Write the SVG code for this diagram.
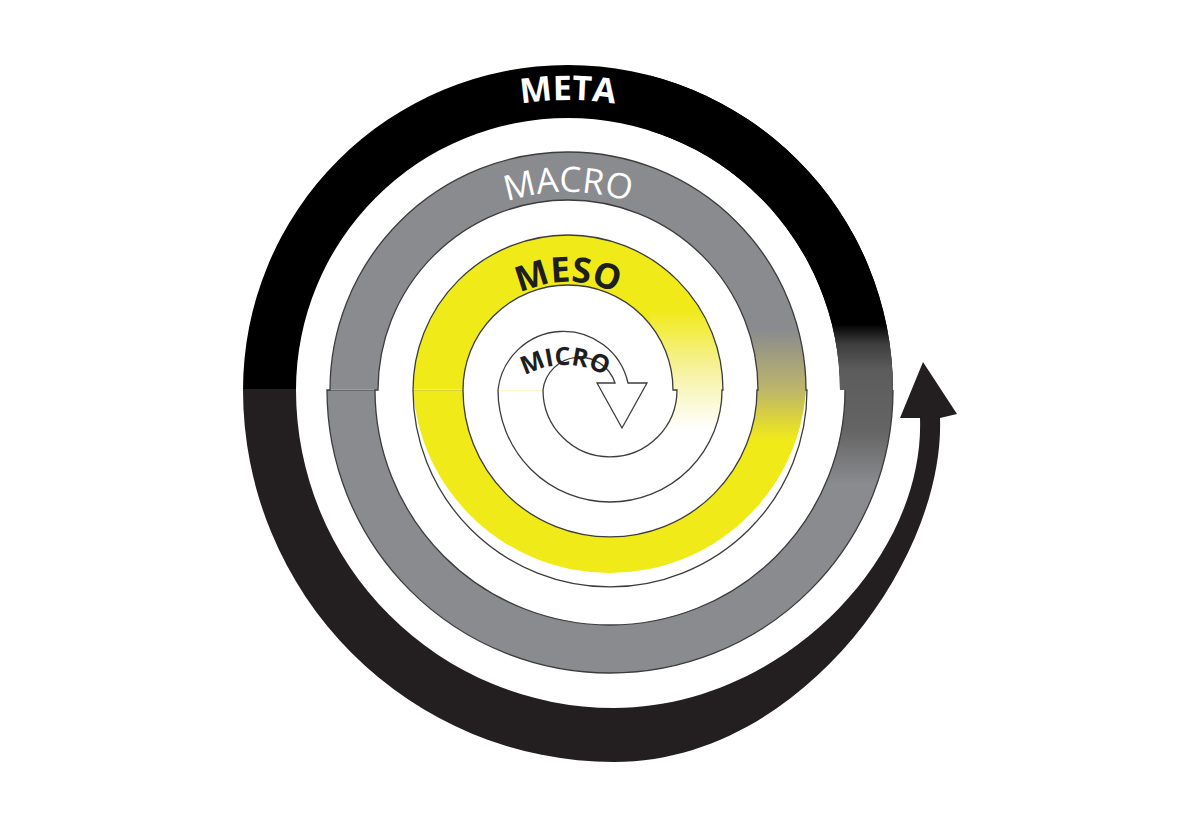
<svg xmlns="http://www.w3.org/2000/svg" width="1199" height="815" viewBox="0 0 1199 815">
<style>
.lbl{font-family:"Open Sans","Liberation Sans",sans-serif;text-anchor:middle}
.edge{fill:none;stroke:#3c3c3c;stroke-width:1.3}
</style>
<defs>
<linearGradient id="s1" gradientUnits="userSpaceOnUse" x1="0" y1="389" x2="0" y2="391"><stop offset="0" stop-color="#000"/><stop offset="1" stop-color="#8a8b8e"/></linearGradient>
<linearGradient id="s2" gradientUnits="userSpaceOnUse" x1="0" y1="389" x2="0" y2="391"><stop offset="0" stop-color="#8a8b8e"/><stop offset="1" stop-color="#f1ea19"/></linearGradient>
<linearGradient id="s3" gradientUnits="userSpaceOnUse" x1="0" y1="389" x2="0" y2="391"><stop offset="0" stop-color="#f1ea19"/><stop offset="1" stop-color="#fff"/></linearGradient>
<linearGradient id="g1" gradientUnits="userSpaceOnUse" x1="0" y1="300" x2="0" y2="500"><stop offset="0.12" stop-color="#000"/><stop offset="0.22" stop-color="#3e3e3e"/><stop offset="0.35" stop-color="#5c5c5c"/><stop offset="0.65" stop-color="#646464"/><stop offset="0.92" stop-color="#8a8b8e"/></linearGradient>
<linearGradient id="g2" gradientUnits="userSpaceOnUse" x1="0" y1="300" x2="0" y2="500"><stop offset="0.15" stop-color="#8a8b8e"/><stop offset="0.45" stop-color="#beb66a"/><stop offset="0.7" stop-color="#f1ea19"/></linearGradient>
<linearGradient id="g3" gradientUnits="userSpaceOnUse" x1="0" y1="300" x2="0" y2="500"><stop offset="0.05" stop-color="#f1ea19"/><stop offset="0.35" stop-color="#f6f2a0"/><stop offset="0.65" stop-color="#fff"/></linearGradient>
<clipPath id="rc"><rect x="650" y="0" width="549" height="815"/></clipPath>
<path id="tp1" d="M278 390A290 290 0 0 1 858 390"/>
<path id="tp2" d="M370 390A198 198 0 0 1 766 390"/>
<path id="tp3" d="M460 390A108 108 0 0 1 676 390"/>
<path id="tp4" d="M485 445A80 80 0 0 1 645 445"/>
</defs>
<rect width="1199" height="815" fill="#fff"/>
<g id="meta-arrow">
<path d="M243 390A371 372 0 0 0 614 762C800 762 945 560 940 418L957 414L923 362L900 418L920 418C925 560 780 708 614 708A318 318 0 0 1 296 390Z" fill="#231f20"/>
</g>
<g id="meta">
<path id="p1" d="M243 390A325 325 0 0 1 893 390A283 283 0 0 1 327 390L375 390A235 235 0 0 0 845 390L840 390A272 272 0 0 0 296 390Z" fill="url(#s1)"/>
<path d="M243 390A325 325 0 0 1 893 390A283 283 0 0 1 327 390L375 390A235 235 0 0 0 845 390L840 390A272 272 0 0 0 296 390Z" fill="url(#g1)" clip-path="url(#rc)"/>
</g>
<g id="macro">
<path d="M330 390A238 238 0 0 1 806 390A197 197 0 0 1 413 390L463 390A147 147 0 0 0 757 390L758 390A190 190 0 0 0 378 390Z" fill="url(#s2)"/>
<path d="M330 390A238 238 0 0 1 806 390A197 197 0 0 1 413 390L463 390A147 147 0 0 0 757 390L758 390A190 190 0 0 0 378 390Z" fill="url(#g2)" clip-path="url(#rc)"/>
</g>
<g id="meso">
<path d="M413 390A155 155 0 0 1 723 390A112 112 0 0 1 498 390L543 390A67 67 0 0 0 677 390L673 390A105 105 0 0 0 463 390Z" fill="url(#s3)"/>
<path d="M413 390A155 155 0 0 1 723 390A112 112 0 0 1 498 390L543 390A67 67 0 0 0 677 390L673 390A105 105 0 0 0 463 390Z" fill="url(#g3)" clip-path="url(#rc)"/>
</g>
<g id="micro">
<path d="M498 390A66 66 0 0 1 628 383L647 383L622 428L597 383L615 383A37 37 0 0 0 543 390Z" fill="#fff"/>
</g>
<g id="outline">
<path class="edge" d="M893 390A283 283 0 0 1 327 390L330 390A238 238 0 0 1 806 390L807 390A197 197 0 0 1 413 390A155 155 0 0 1 723 390L722 390A112 112 0 0 1 498 390A66 66 0 0 1 628 383L647 383L622 428L597 383L615 383A37 37 0 0 0 543 390A67 67 0 0 0 677 390L673 390A105 105 0 0 0 463 390A147 147 0 0 0 757 390L758 390A190 190 0 0 0 378 390L375 390A235 235 0 0 0 845 390"/>
</g>
<g id="labels">
<text class="lbl" font-size="34" font-weight="700" fill="#fff"><textPath href="#tp1" startOffset="50%">META</textPath></text>
<text class="lbl" font-size="35" font-weight="400" fill="#fff"><textPath href="#tp2" startOffset="50%">MACRO</textPath></text>
<text class="lbl" font-size="35" font-weight="700" fill="#1e1e1e"><textPath href="#tp3" startOffset="50%">MESO</textPath></text>
<text class="lbl" font-size="25" font-weight="700" fill="#1e1e1e"><textPath href="#tp4" startOffset="50%">MICRO</textPath></text>
</g>
</svg>
